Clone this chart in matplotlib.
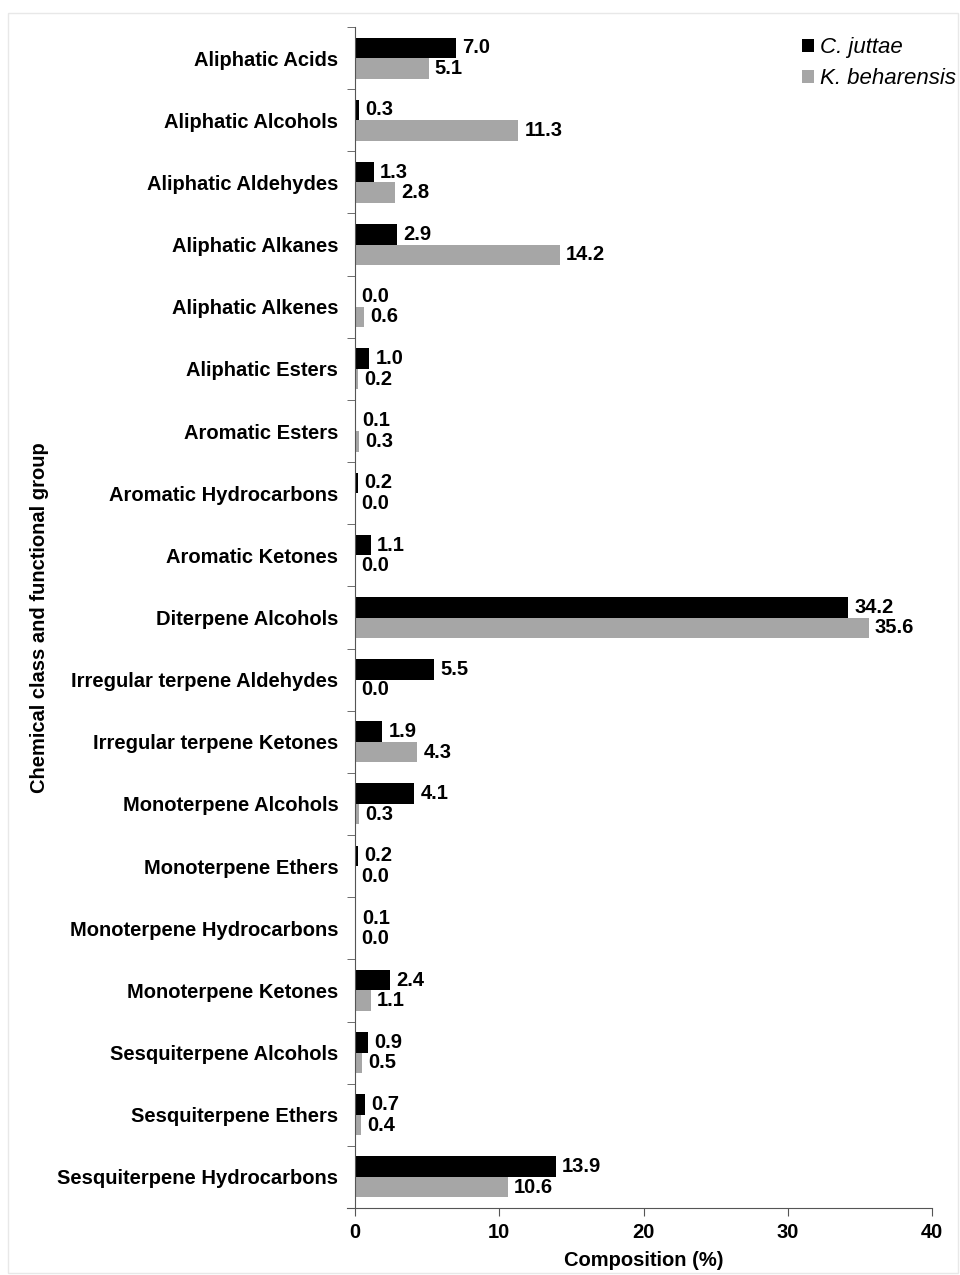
import matplotlib.pyplot as plt
import numpy as np

# Config
categories = ["Aliphatic Acids", "Aliphatic Alcohols", "Aliphatic Aldehydes", "Aliphatic Alkanes",
              "Aliphatic Alkenes", "Aliphatic Esters", "Aromatic Esters", "Aromatic Hydrocarbons",
              "Aromatic Ketones", "Diterpene Alcohols", "Irregular terpene Aldehydes",
              "Irregular terpene Ketones", "Monoterpene Alcohols", "Monoterpene Ethers",
              "Monoterpene Hydrocarbons", "Monoterpene Ketones", "Sesquiterpene Alcohols",
              "Sesquiterpene Ethers", "Sesquiterpene Hydrocarbons"]
juttae = [7.0, 0.3, 1.3, 2.9, 0.0, 1.0, 0.1, 0.2, 1.1, 34.2, 5.5, 1.9, 4.1, 0.2, 0.1, 2.4, 0.9, 0.7, 13.9]
beharensis = [5.1, 11.3, 2.8, 14.2, 0.6, 0.2, 0.3, 0.0, 0.0, 35.6, 0.0, 4.3, 0.3, 0.0, 0.0, 1.1, 0.5, 0.4, 10.6]
xticks = [0, 10, 20, 30, 40]

plt.rcParams['font.family'] = ['Liberation Sans', 'DejaVu Sans']
fs = 14.5

fig = plt.figure(figsize=(9.6, 12.75), dpi=100)
ax = fig.add_axes([355 / 960, 1 - 1208 / 1275, 577 / 960, 1181 / 1275])

# faint frame around the whole picture
fig.patches.append(plt.Rectangle((8 / 960, 2 / 1275), 950 / 960, 1260 / 1275, transform=fig.transFigure,
                                 fill=False, edgecolor='#e8e8e8', linewidth=1))

y = np.arange(len(categories))
h = 0.33
ax.barh(y - h / 2, juttae, height=h, color='black', label='C. juttae')
ax.barh(y + h / 2, beharensis, height=h, color='#a6a6a6', label='K. beharensis')

for i in range(len(categories)):
    ax.annotate(f"{juttae[i]:.1f}", (juttae[i], y[i] - h / 2), xytext=(4.5, 0), textcoords='offset points',
                va='center', ha='left', fontsize=fs, fontweight='bold')
    ax.annotate(f"{beharensis[i]:.1f}", (beharensis[i], y[i] + h / 2), xytext=(4.5, 0), textcoords='offset points',
                va='center', ha='left', fontsize=fs, fontweight='bold')

ax.set_ylim(len(categories) - 0.5, -0.5)
ax.set_xlim(0, 40)
ax.set_xticks(xticks)
ax.set_yticks(y)
ax.set_yticklabels(categories, fontsize=fs, fontweight='bold')
ax.set_yticks(np.arange(len(categories) + 1) - 0.5, minor=True)
ax.tick_params(axis='y', which='major', length=0, pad=12)
ax.tick_params(axis='y', which='minor', length=6, color='#555555')
ax.tick_params(axis='x', length=6, color='#555555', labelsize=fs, pad=5)
for t in ax.get_xticklabels():
    t.set_fontweight('bold')

for s in ['top', 'right']:
    ax.spines[s].set_visible(False)
ax.spines['left'].set_color('#555555')
ax.spines['bottom'].set_color('#555555')
ax.spines['bottom'].set_bounds(-0.55, 40)

ax.set_xlabel("Composition (%)", fontsize=fs, fontweight='bold', labelpad=6)
ax.set_ylabel("Chemical class and functional group", fontsize=fs, fontweight='bold', labelpad=6)

leg = fig.legend(loc='upper right', bbox_to_anchor=(967 / 960, 1 - 26 / 1275), frameon=False,
                 handlelength=0.55, handleheight=0.55, handletextpad=0.25, labelspacing=0.45,
                 borderpad=0, prop={'style': 'italic', 'size': 16})

fig.savefig("out.png", dpi=100)
